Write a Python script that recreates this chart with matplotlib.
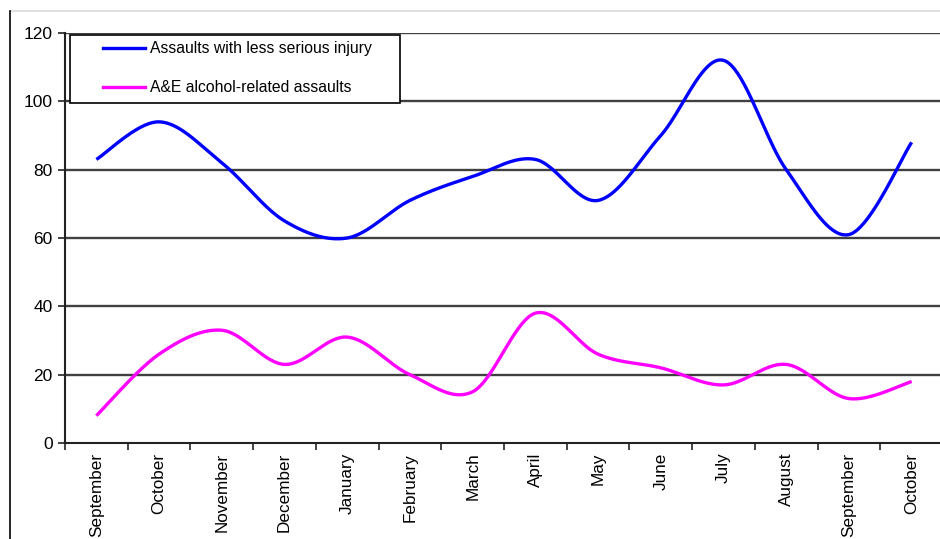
import numpy as np
import matplotlib
matplotlib.use("Agg")
import matplotlib.pyplot as plt
from matplotlib.lines import Line2D
from matplotlib.patches import Rectangle

plt.rcParams['font.family'] = ['Liberation Sans', 'DejaVu Sans']

months = ["September", "October", "November", "December", "January", "February",
          "March", "April", "May", "June", "July", "August", "September", "October"]
assaults_injury = [83, 94, 82, 65, 60, 71, 78, 83, 71, 90, 112, 80, 61, 88]
ae_alcohol = [8, 26, 33, 23, 31, 20, 15, 38, 26, 22, 17, 23, 13, 18]

series_names = ["Assaults with less serious injury", "A&E alcohol-related assaults"]
series_colors = ["#0000ff", "#ff00ff"]

W, H = 940, 539


def smooth(xs, ys, steps=40):
    """Cubic Bezier smoothing through every point (spreadsheet-style)."""
    xs = np.asarray(xs, float)
    ys = np.asarray(ys, float)
    n = len(xs)
    out_x, out_y = [], []
    for i in range(n - 1):
        p0 = np.array([xs[max(i - 1, 0)], ys[max(i - 1, 0)]])
        p1 = np.array([xs[i], ys[i]])
        p2 = np.array([xs[i + 1], ys[i + 1]])
        p3 = np.array([xs[min(i + 2, n - 1)], ys[min(i + 2, n - 1)]])
        c1 = p1 + (p2 - p0) / 6.0
        c2 = p2 - (p3 - p1) / 6.0
        t = np.linspace(0, 1, steps)[:, None]
        pts = ((1 - t) ** 3) * p1 + 3 * ((1 - t) ** 2) * t * c1 + 3 * (1 - t) * t ** 2 * c2 + t ** 3 * p2
        if i > 0:
            pts = pts[1:]
        out_x.extend(pts[:, 0])
        out_y.extend(pts[:, 1])
    return np.array(out_x), np.array(out_y)


def fx(px):
    return px / W


def fy(py):
    return 1 - py / H


fig = plt.figure(figsize=(W / 100, H / 100), dpi=100)

# frame lines around the chart area
fig.add_artist(Line2D([fx(10), 1.0], [fy(11), fy(11)],
                      transform=fig.transFigure, color="#d9d9d9", lw=1.2))
fig.add_artist(Line2D([fx(10), fx(10)], [0, fy(11)],
                      transform=fig.transFigure, color="#000000", lw=1.2))

ax = fig.add_axes([fx(65), 96 / H, 878 / W, 410 / H])

x = np.arange(len(months))
for vals, name, col in zip([assaults_injury, ae_alcohol], series_names, series_colors):
    sx, sy = smooth(x, vals)
    ax.plot(sx, sy, color=col, lw=2.4, label=name, solid_capstyle="butt", zorder=3)

ax.set_xlim(-0.5, len(months) - 0.5)
ax.set_ylim(0, 120)
ax.set_yticks(np.arange(0, 121, 20))
ax.set_yticklabels([str(v) for v in range(0, 121, 20)], fontsize=12.5)
for v in range(20, 121, 20):
    ax.axhline(v, color="#404040", lw=1.7, zorder=1)

ax.set_xticks(x)
ax.set_xticklabels(months, rotation=90, fontsize=12.3, va="top")
ax.set_xticks(np.arange(-0.5, len(months), 1), minor=True)
ax.tick_params(axis="x", which="major", length=0, pad=7)
ax.tick_params(axis="x", which="minor", length=5, width=1.2, color="#222222", direction="out")
ax.tick_params(axis="y", length=5, width=1.2, color="#222222", direction="out", pad=4)

for s in ["top", "right"]:
    ax.spines[s].set_visible(False)
for s in ["left", "bottom"]:
    ax.spines[s].set_color("#222222")
    ax.spines[s].set_linewidth(1.5)

# legend box
fig.add_artist(Rectangle((fx(70), fy(103)), fx(400) - fx(70), fy(35) - fy(103),
                         transform=fig.transFigure, facecolor="white",
                         edgecolor="black", lw=1.2, zorder=5))
for i, (name, col) in enumerate(zip(series_names, series_colors)):
    yy = fy(48 + 39 * i)
    fig.add_artist(Line2D([fx(103), fx(145)], [yy, yy], transform=fig.transFigure,
                          color=col, lw=2.4, zorder=6))
    fig.text(fx(150), yy, name, fontsize=11.3, va="center", ha="left", zorder=6)

fig.savefig("out.png", dpi=100, facecolor="white")
